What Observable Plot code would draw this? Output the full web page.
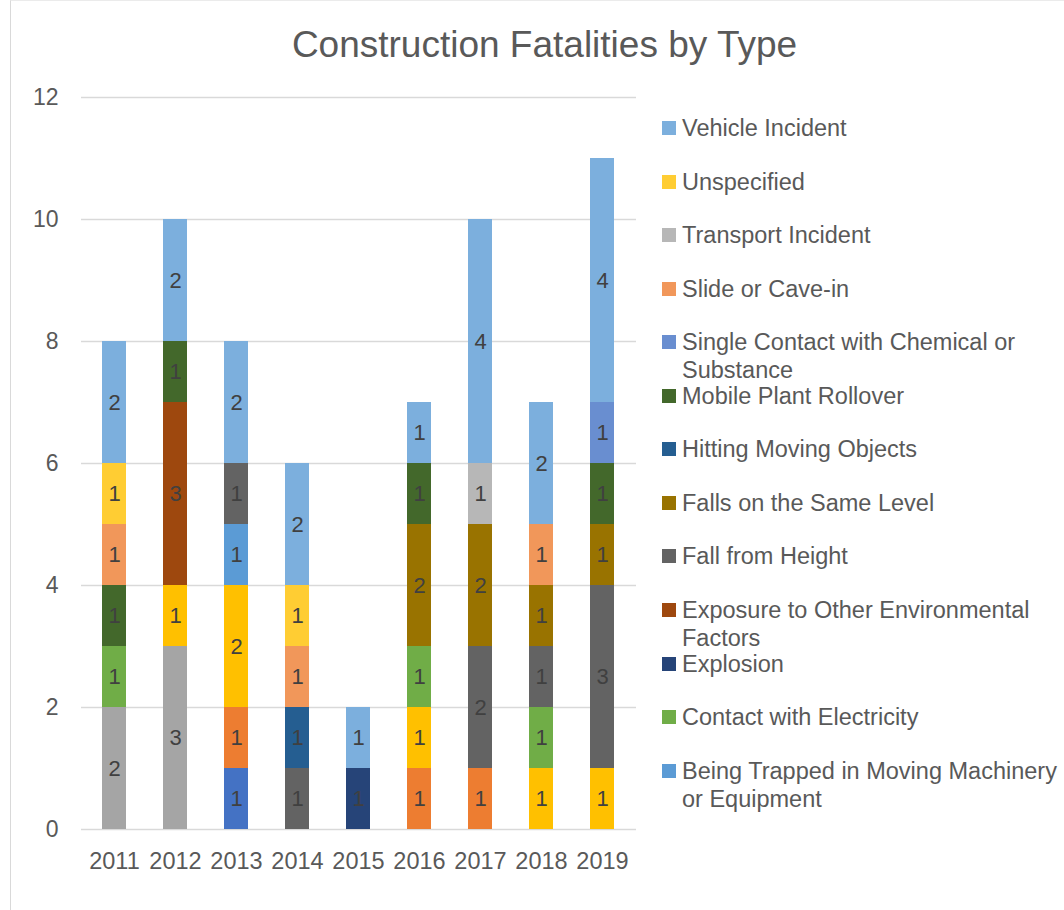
<!DOCTYPE html>
<html>
<head>
<meta charset="utf-8">
<script src="https://cdn.jsdelivr.net/npm/d3@7"></script>
<script src="https://cdn.jsdelivr.net/npm/@observablehq/plot@0.6"></script>
<style>
  html, body { margin: 0; padding: 0; background: #fff; }
  body { font-family: "Liberation Sans", Arial, Helvetica, sans-serif; }
  #frame { position: relative; width: 1064px; height: 910px; overflow: hidden; background: #fff; }
  #border { position: absolute; left: 10px; top: 0; width: 1200px; height: 1000px;
            border-left: 1.5px solid #D9D9D9; border-top: 1.5px solid #EBEBEB; }
  #title { position: absolute; left: 0; top: 26px; width: 1089px; text-align: center;
           font-size: 37px; line-height: 37px; color: #595959; white-space: nowrap; }
  #chart { position: absolute; left: 0; top: 0; }
  .lg { position: absolute; left: 662px; }
  .lg .sw { position: absolute; left: 0; width: 14px; height: 14px; }
  .lg .tx { position: absolute; left: 20px; font-size: 23.5px; line-height: 28px; color: #595959; white-space: nowrap; }
</style>
</head>
<body>
<div id="frame">
  <div id="border"></div>
  <div id="title">Construction Fatalities by Type</div>
  <div id="chart"></div>
  <div id="legend"></div>
</div>
<script>
// ---- data ----
const years = ["2011", "2012", "2013", "2014", "2015", "2016", "2017", "2018", "2019"];

// stacking order, bottom to top (first four series have no legend entry)
const seriesNames = [
  "Series 1", "Series 2", "Series 3", "Series 4",
  "Being Trapped in Moving Machinery or Equipment",
  "Contact with Electricity",
  "Explosion",
  "Exposure to Other Environmental Factors",
  "Fall from Height",
  "Falls on the Same Level",
  "Hitting Moving Objects",
  "Mobile Plant Rollover",
  "Single Contact with Chemical or Substance",
  "Slide or Cave-in",
  "Transport Incident",
  "Unspecified",
  "Vehicle Incident"
];
const legendSeries = seriesNames.slice(4);

// values per series, one per year 2011..2019
const series1 = [0, 0, 1, 0, 0, 0, 0, 0, 0];
const series2 = [0, 0, 1, 0, 0, 1, 1, 0, 0];
const series3 = [2, 3, 0, 0, 0, 0, 0, 0, 0];
const series4 = [0, 1, 2, 0, 0, 1, 0, 1, 1];
const beingTrapped = [0, 0, 1, 0, 0, 0, 0, 0, 0];
const contactElectricity = [1, 0, 0, 0, 0, 1, 0, 1, 0];
const explosion = [0, 0, 0, 0, 1, 0, 0, 0, 0];
const exposure = [0, 3, 0, 0, 0, 0, 0, 0, 0];
const fallFromHeight = [0, 0, 1, 1, 0, 0, 2, 1, 3];
const fallsSameLevel = [0, 0, 0, 0, 0, 2, 2, 1, 1];
const hittingMoving = [0, 0, 0, 1, 0, 0, 0, 0, 0];
const mobilePlant = [1, 1, 0, 0, 0, 1, 0, 0, 1];
const singleContact = [0, 0, 0, 0, 0, 0, 0, 0, 1];
const slideCaveIn = [1, 0, 0, 1, 0, 0, 0, 1, 0];
const transportIncident = [0, 0, 0, 0, 0, 0, 1, 0, 0];
const unspecified = [1, 0, 0, 1, 0, 0, 0, 0, 0];
const vehicleIncident = [2, 2, 2, 2, 1, 1, 4, 2, 4];

const yTicks = [0, 2, 4, 6, 8, 10, 12];

// ---- styles ----
const seriesColors = [
  "#4472C4", "#ED7D31", "#A5A5A5", "#FFC000",
  "#5B9BD5", "#70AD47", "#264478", "#9E480E", "#636363", "#997300",
  "#255E91", "#43682B", "#698ED0", "#F1975A", "#B7B7B7", "#FFCD33", "#7CAFDD"
];

const seriesValues = [
  series1, series2, series3, series4,
  beingTrapped, contactElectricity, explosion, exposure, fallFromHeight,
  fallsSameLevel, hittingMoving, mobilePlant, singleContact, slideCaveIn,
  transportIncident, unspecified, vehicleIncident
];

const records = [];
seriesNames.forEach((name, si) => {
  years.forEach((yr, yi) => {
    const v = seriesValues[si][yi];
    if (v > 0) records.push({ year: yr, series: name, value: v });
  });
});

const chart = Plot.plot({
  width: 640,
  height: 880,
  marginLeft: 81,
  marginRight: 4,
  marginTop: 97,
  marginBottom: 51,
  style: { fontFamily: '"Liberation Sans", Arial, Helvetica, sans-serif', background: "transparent" },
  x: { domain: years, paddingInner: 0.6, paddingOuter: 0.3, axis: null },
  y: { domain: [0, 12], axis: null },
  color: { domain: seriesNames, range: seriesColors },
  marks: [
    Plot.ruleY(yTicks, { stroke: "#D9D9D9", strokeWidth: 1.5 }),
    Plot.barY(records, Plot.stackY({ x: "year", y: "value", z: "series", fill: "series", order: seriesNames })),
    Plot.text(records, Plot.stackY({
      x: "year", y: "value", z: "series", order: seriesNames,
      text: d => String(d.value), fill: "#404040", fontSize: 22
    })),
    Plot.axisY({ ticks: yTicks, tickSize: 0, tickPadding: 23, fontSize: 23, fill: "#595959", label: null }),
    Plot.axisX({ tickSize: 0, tickPadding: 23, fontSize: 23.5, fill: "#595959", label: null })
  ]
});
document.getElementById("chart").appendChild(chart);

// ---- legend (top to bottom: reverse of stacking order) ----
const legendLines = {
  "Single Contact with Chemical or Substance": ["Single Contact with Chemical or", "Substance"],
  "Exposure to Other Environmental Factors": ["Exposure to Other Environmental", "Factors"],
  "Being Trapped in Moving Machinery or Equipment": ["Being Trapped in Moving Machinery", "or Equipment"]
};
const legend = document.getElementById("legend");
const legendOrder = legendSeries.slice().reverse();
legendOrder.forEach((name, i) => {
  const cy = 128 + i * 53.55;
  const item = document.createElement("div");
  item.className = "lg";
  item.style.top = (cy - 7) + "px";
  const sw = document.createElement("div");
  sw.className = "sw";
  sw.style.top = "0px";
  sw.style.background = seriesColors[seriesNames.indexOf(name)];
  const tx = document.createElement("div");
  tx.className = "tx";
  tx.style.top = "-7px";
  const lines = legendLines[name] || [name];
  lines.forEach((ln, k) => {
    if (k > 0) tx.appendChild(document.createElement("br"));
    tx.appendChild(document.createTextNode(ln));
  });
  item.appendChild(sw);
  item.appendChild(tx);
  legend.appendChild(item);
});
</script>
</body>
</html>
